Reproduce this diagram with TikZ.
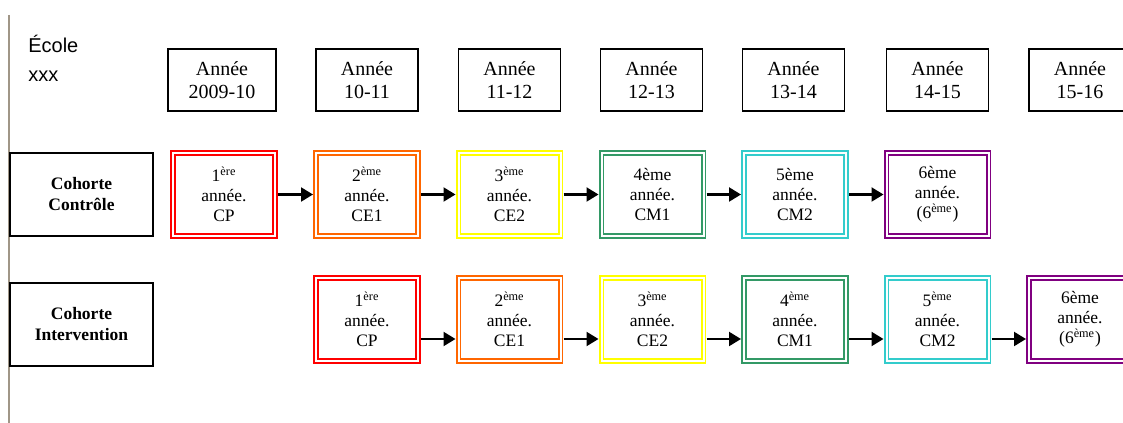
\documentclass[tikz,border=0pt]{standalone}
\usepackage{fontspec}
\setmainfont{Liberation Serif}
\newfontfamily\arialfont{Liberation Sans}
\usetikzlibrary{arrows.meta}
\definecolor{gradered}{RGB}{255,0,0}
\definecolor{gradeorange}{RGB}{255,102,0}
\definecolor{gradeyellow}{RGB}{255,255,0}
\definecolor{gradegreen}{RGB}{51,153,102}
\definecolor{gradecyan}{RGB}{51,204,204}
\definecolor{gradepurple}{RGB}{128,0,128}
\definecolor{margeline}{RGB}{160,150,135}
\tikzset{
yearbox/.style={draw=black, line width=0.9pt, minimum width=61.2pt, minimum height=37.2pt, inner sep=0pt, align=center, font=\fontsize{12}{14}\selectfont},
cohortbox/.style={draw=black, line width=0.9pt, minimum width=85.8pt, minimum height=49.8pt, inner sep=0pt, align=center, font=\fontsize{10.5}{12.6}\selectfont\bfseries},
grade/.style={draw=#1, double=white, line width=1.1pt, double distance=1.2pt, minimum width=61.2pt, minimum height=49.8pt, inner sep=0pt, outer sep=1.8pt, align=center, font=\fontsize{10.5}{12}\selectfont},
suite/.style={line width=1.3pt, -{Triangle[length=7.2pt,width=8.4pt]}}
}
\begin{document}
\begin{tikzpicture}[x=0.6pt,y=-0.6pt]
\useasboundingbox (0,0) rectangle (1123,423);
\clip (0,0) rectangle (1123,423);
\draw[margeline, line width=0.8pt] (9,15)--(9,423);
\node[anchor=north west, inner sep=0pt, align=left, font=\arialfont\fontsize{12}{17}\selectfont] (ecole) at (28,35) {École\\xxx};
\node[yearbox, minimum width=64.8pt] (an1) at (222,80) {Année\\2009-10};
\node[yearbox] (an2) at (367,80) {Année\\10-11};
\node[yearbox] (an3) at (509.5,80) {Année\\11-12};
\node[yearbox] (an4) at (651.5,80) {Année\\12-13};
\node[yearbox] (an5) at (793.5,80) {Année\\13-14};
\node[yearbox] (an6) at (937.5,80) {Année\\14-15};
\node[yearbox] (an7) at (1080,80) {Année\\15-16};
\node[cohortbox] (ctrl) at (81.5,194.5) {Cohorte\\Contrôle};
\node[cohortbox] (interv) at (81.5,324.5) {Cohorte\\Intervention};
\node[grade=gradered] (c1) at (224,194.5) {1\textsuperscript{ère}\\année.\\CP};
\node[grade=gradeorange] (c2) at (367,194.5) {2\textsuperscript{ème}\\année.\\CE1};
\node[grade=gradeyellow] (c3) at (509.5,194.5) {3\textsuperscript{ème}\\année.\\CE2};
\node[grade=gradegreen] (c4) at (652.5,194.5) {4ème\\année.\\CM1};
\node[grade=gradecyan] (c5) at (795,194.5) {5ème\\année.\\CM2};
\node[grade=gradepurple] (c6) at (937.5,194.5) {6ème\\année.\\(6\textsuperscript{ème})};
\draw[suite] (c1.east)--(c2.west);
\draw[suite] (c2.east)--(c3.west);
\draw[suite] (c3.east)--(c4.west);
\draw[suite] (c4.east)--(c5.west);
\draw[suite] (c5.east)--(c6.west);
\node[grade=gradered] (i1) at (367,319.5) {1\textsuperscript{ère}\\année.\\CP};
\node[grade=gradeorange] (i2) at (509.5,319.5) {2\textsuperscript{ème}\\année.\\CE1};
\node[grade=gradeyellow] (i3) at (652.5,319.5) {3\textsuperscript{ème}\\année.\\CE2};
\node[grade=gradegreen] (i4) at (795,319.5) {4\textsuperscript{ème}\\année.\\CM1};
\node[grade=gradecyan] (i5) at (937.5,319.5) {5\textsuperscript{ème}\\année.\\CM2};
\node[grade=gradepurple] (i6) at (1080,319.5) {6ème\\année.\\(6\textsuperscript{ème})};
\draw[suite] ([yshift=-11.7pt]i1.east)--([yshift=-11.7pt]i2.west);
\draw[suite] ([yshift=-11.7pt]i2.east)--([yshift=-11.7pt]i3.west);
\draw[suite] ([yshift=-11.7pt]i3.east)--([yshift=-11.7pt]i4.west);
\draw[suite] ([yshift=-11.7pt]i4.east)--([yshift=-11.7pt]i5.west);
\draw[suite] ([yshift=-11.7pt]i5.east)--([yshift=-11.7pt]i6.west);
\end{tikzpicture}
\end{document}
